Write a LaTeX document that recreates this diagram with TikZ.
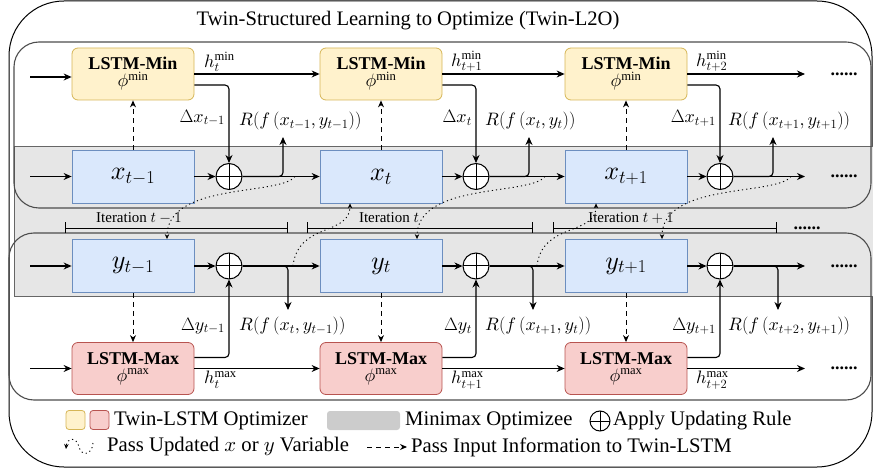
\RequirePackage{fix-cm}
\documentclass[tikz,border=0pt]{standalone}
\usepackage{fontspec}
\setmainfont{Liberation Serif}
\DeclareFontShape{OML}{cmm}{m}{it}{<->cmmi10}{}
\DeclareFontShape{OMS}{cmsy}{m}{n}{<->cmsy10}{}
\usetikzlibrary{arrows.meta}
\definecolor{minF}{HTML}{FFF2CC}
\definecolor{minB}{HTML}{D6B656}
\definecolor{maxF}{HTML}{F8CECC}
\definecolor{maxB}{HTML}{B85450}
\definecolor{varF}{HTML}{DAE8FC}
\definecolor{varB}{HTML}{6C8EBF}
\definecolor{bandF}{HTML}{E6E6E6}
\definecolor{bandB}{HTML}{666666}
\definecolor{legG}{HTML}{CCCCCC}
\definecolor{frameC}{HTML}{4D4D4D}
\begin{document}
\begin{tikzpicture}[x=1pt,y=-1pt,
  minbox/.style={draw=minB,fill=minF,rounded corners=6pt,minimum width=122pt,minimum height=52pt,line width=0.8pt,align=center,inner sep=0pt,font=\fontsize{18}{19}\selectfont},
  maxbox/.style={minbox,draw=maxB,fill=maxF},
  varbox/.style={draw=varB,fill=varF,minimum width=122pt,minimum height=53pt,line width=0.8pt,inner sep=0pt,font=\fontsize{26}{28}\selectfont},
  opl/.style={circle,draw,fill=white,line width=1pt,minimum size=#1,inner sep=0pt,
    path picture={\draw[line width=1pt] (path picture bounding box.north) -- (path picture bounding box.south) (path picture bounding box.west) -- (path picture bounding box.east);}},
  opl/.default=26pt,
  conn/.style={line width=1.1pt,rounded corners=4pt,-{Stealth[length=8pt,width=7pt]}},
  dconn/.style={line width=1pt,dash pattern=on 5pt off 4pt,-{Stealth[length=7pt,width=6pt]}},
  pconn/.style={line width=0.9pt,dash pattern=on 1.2pt off 3pt,-{Stealth[length=5pt,width=4.5pt]}},
  lbl/.style={font=\fontsize{18}{20}\selectfont,inner sep=1pt},
  itlbl/.style={font=\fontsize{15}{16}\selectfont,inner sep=1pt},
  legtxt/.style={font=\fontsize{20.7}{22}\selectfont,inner sep=0pt,anchor=west},
  dots/.style={font=\fontsize{18}{20}\selectfont\bfseries,inner sep=0pt},
  bracket/.style={line width=0.9pt,{Bar[width=11pt]}-{Bar[width=11pt]}},
  frame/.style={draw=frameC,line width=1.1pt,rounded corners=25pt}
]
\useasboundingbox (0,0) rectangle (873,470);
\clip (0,0) rectangle (873,470);

% outer frame
\draw[line width=1pt,rounded corners=55pt] (9,1) rectangle (872,467);
\node[font=\fontsize{20.6}{22}\selectfont,inner sep=0pt] (title) at (408,21) {Twin-Structured Learning to Optimize (Twin-L2O)};

% gray band
\draw[fill=bandF,draw=bandB,line width=0.9pt] (14,146) rectangle (890,296);
% min and max frames
\draw[frame] (14,42) rectangle (871,208);
\draw[frame] (9,233) rectangle (871,400);

% nodes
\foreach \i/\c in {1/133,2/381,3/626}{
  \node[minbox] (min\i) at (\c,74) {\textbf{LSTM-Min}\\[-2pt]$\phi^{\min}$};
  \node[varbox] (x\i) at (\c,176.5) {};
  \node[varbox] (y\i) at (\c,266) {};
  \node[maxbox] (max\i) at (\c,368.5) {\textbf{LSTM-Max}\\[-2pt]$\phi^{\max}$};
}
\node[font=\fontsize{26}{28}\selectfont] at (x1) {$x_{t-1}$};
\node[font=\fontsize{26}{28}\selectfont] at (x2) {$x_{t}$};
\node[font=\fontsize{26}{28}\selectfont] at (x3) {$x_{t+1}$};
\node[font=\fontsize{26}{28}\selectfont] at (y1) {$y_{t-1}$};
\node[font=\fontsize{26}{28}\selectfont] at (y2) {$y_{t}$};
\node[font=\fontsize{26}{28}\selectfont] at (y3) {$y_{t+1}$};

\foreach \i/\o in {1/229,2/476,3/720}{
  \node[opl] (opx\i) at (\o,176.5) {};
  \node[opl] (opy\i) at (\o,266) {};
}

% left inputs
\coordinate (inmin) at (30,77);
\coordinate (inx) at (30,176.5);
\coordinate (iny) at (30,266);
\coordinate (inmax) at (30,368.5);
\draw[conn] (inmin) -- (min1.west |- inmin);
\draw[conn] (inx) -- (x1.west);
\draw[conn] (iny) -- (y1.west);
\draw[conn] (inmax) -- (max1.west);

% right outputs
\coordinate (omin) at (805,74);
\coordinate (ox) at (805,176.5);
\coordinate (oy) at (805,266);
\coordinate (omax) at (805,368.5);
\node[dots] (dmin) at (844,74) {......};
\node[dots] (dx) at (844,176.5) {......};
\node[dots] (dy) at (844,266) {......};
\node[dots] (dmax) at (844,368.5) {......};
\node[dots] (dit) at (807,228) {......};
\draw[conn] (min3.east) -- (omin);
\draw[conn] (max3.east) -- (omax);
\draw[conn] (opx3.east) -- (ox);
\draw[conn] (opy3.east) -- (oy);

% recurrent h arrows
\draw[conn] (min1.east) -- (min2.west);
\draw[conn] (min2.east) -- (min3.west);
\draw[conn] (max1.east) -- (max2.west);
\draw[conn] (max2.east) -- (max3.west);
\node[lbl,anchor=south west] (hmin1) at (203,73) {$h_t^{\min}$};
\node[lbl,anchor=south west] (hmin2) at (450,73) {$h_{t+1}^{\min}$};
\node[lbl,anchor=south west] (hmin3) at (695,73) {$h_{t+2}^{\min}$};
\node[lbl,anchor=north west] (hmax1) at (203,370) {$h_t^{\max}$};
\node[lbl,anchor=north west] (hmax2) at (450,370) {$h_{t+1}^{\max}$};
\node[lbl,anchor=north west] (hmax3) at (695,370) {$h_{t+2}^{\max}$};

% variable row arrows
\foreach \i in {1,2,3}{
  \draw[conn] (x\i.east) -- (opx\i.west);
  \draw[conn] (y\i.east) -- (opy\i.west);
  \draw[conn] ([yshift=-11pt]min\i.east) -| (opx\i.north);
  \draw[conn] ([yshift=11pt]max\i.east) -| (opy\i.south);
  \draw[dconn] (x\i.north) -- (min\i.south);
  \draw[dconn] (y\i.south) -- (max\i.north);
}
\draw[conn] (opx1.east) -- (x2.west);
\draw[conn] (opx2.east) -- (x3.west);
\draw[conn] (opy1.east) -- (y2.west);
\draw[conn] (opy2.east) -- (y3.west);

% R branches
\coordinate (rx1) at (283,137);
\coordinate (rx2) at (529,137);
\coordinate (rx3) at (773,137);
\coordinate (ry1) at (288,310);
\coordinate (ry2) at (533,310);
\coordinate (ry3) at (778,310);
\foreach \i in {1,2,3}{
  \draw[conn] (opx\i.east) -| (rx\i);
  \draw[conn] (opy\i.east) -| (ry\i);
}
\node[lbl,anchor=east] (dx1) at (226,118) {$\Delta x_{t-1}$};
\node[lbl,anchor=east] (dx2) at (473,118) {$\Delta x_{t}$};
\node[lbl,anchor=east] (dx3) at (717,118) {$\Delta x_{t+1}$};
\node[lbl,anchor=west] (Rx1) at (238,121) {$R(f\left(x_{t-1},y_{t-1}\right))$};
\node[lbl,anchor=west] (Rx2) at (484,121) {$R(f\left(x_{t},y_{t}\right))$};
\node[lbl,anchor=west] (Rx3) at (727,121) {$R(f\left(x_{t+1},y_{t+1}\right))$};
\node[lbl,anchor=east] (dy1) at (226,326) {$\Delta y_{t-1}$};
\node[lbl,anchor=east] (dy2) at (473,326) {$\Delta y_{t}$};
\node[lbl,anchor=east] (dy3) at (717,326) {$\Delta y_{t+1}$};
\node[lbl,anchor=west] (Ry1) at (238,326) {$R(f\left(x_{t},y_{t-1}\right))$};
\node[lbl,anchor=west] (Ry2) at (484,326) {$R(f\left(x_{t+1},y_{t}\right))$};
\node[lbl,anchor=west] (Ry3) at (727,326) {$R(f\left(x_{t+2},y_{t+1}\right))$};

% iteration brackets
\coordinate (ia1) at (65,228); \coordinate (ib1) at (288,228);
\coordinate (ia2) at (307,228); \coordinate (ib2) at (533,228);
\coordinate (ia3) at (553,228); \coordinate (ib3) at (777,228);
\foreach \i in {1,2,3}{ \draw[bracket] (ia\i) -- (ib\i); }
\node[itlbl] (it1) at (139,218) {Iteration $t-1$};
\node[itlbl] (it2) at (389,218) {Iteration $t$};
\node[itlbl] (it3) at (631,218) {Iteration $t+1$};

% dotted passes
\coordinate (px1) at (295,176.5);
\coordinate (px2) at (545,176.5);
\coordinate (px3) at (791,176.5);
\coordinate (py1) at (293,266);
\coordinate (py2) at (537,266);
\draw[pconn] (px1) .. controls (280,196) and (167,182) .. ([xshift=34pt]y1.north);
\draw[pconn] (px2) .. controls (530,196) and (417,182) .. ([xshift=36pt]y2.north);
\draw[pconn] (px3) .. controls (776,196) and (662,182) .. ([xshift=36pt]y3.north);
\draw[pconn] (py1) .. controls (298,222) and (350,236) .. ([xshift=-31pt]x2.south);
\draw[pconn] (py2) .. controls (542,222) and (596,236) .. ([xshift=-30pt]x3.south);

% legend
\node[draw=minB,fill=minF,rounded corners=3pt,minimum size=19pt,inner sep=0pt,line width=0.8pt] (lgy) at (75.5,420) {};
\node[draw=maxB,fill=maxF,rounded corners=3pt,minimum size=19pt,inner sep=0pt,line width=0.8pt] (lgp) at (99.5,420) {};
\node[legtxt] (lt1) at (114,421) {Twin-LSTM Optimizer};
\node[fill=legG,rounded corners=3pt,minimum width=73pt,minimum height=19pt,inner sep=0pt] (lgg) at (363.5,420.5) {};
\node[legtxt] (lt2) at (405,421) {Minimax Optimizee};
\node[opl=20pt] (lgo) at (600,421) {};
\node[legtxt] (lt3) at (613,421) {Apply Updating Rule};
\coordinate (lca) at (93,443);
\coordinate (lcb) at (66,449);
\draw[pconn] (lca) .. controls (92,456) and (81,456) .. (79,447) .. controls (77,437) and (67,437) .. (lcb);
\node[legtxt] (lt4) at (107,447) {Pass Updated $x$ or $y$ Variable};
\coordinate (lda) at (367,447);
\coordinate (ldb) at (407,447);
\draw[dconn] (lda) -- (ldb);
\node[legtxt] (lt5) at (411,447) {Pass Input Information to Twin-LSTM};
\end{tikzpicture}
\end{document}
